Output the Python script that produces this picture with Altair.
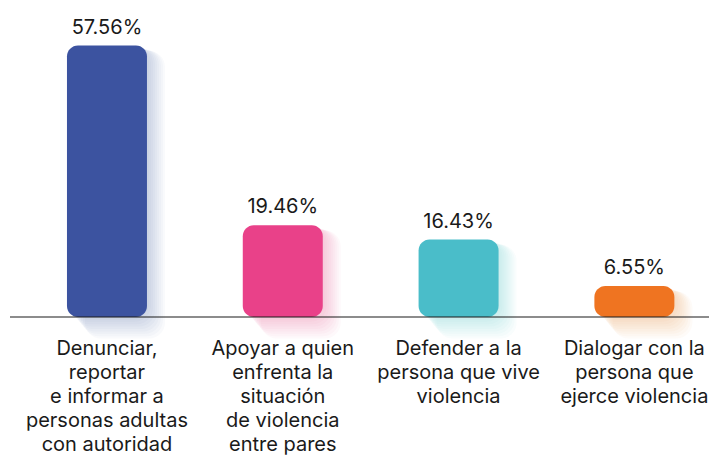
import altair as alt
import pandas as pd

categories = [
    "Denunciar,\nreportar\ne informar a\npersonas adultas\ncon autoridad",
    "Apoyar a quien\nenfrenta la\nsituación\nde violencia\nentre pares",
    "Defender a la\npersona que vive\nviolencia",
    "Dialogar con la\npersona que\nejerce violencia",
]
values = [57.56, 19.46, 16.43, 6.55]
labels = ["57.56%", "19.46%", "16.43%", "6.55%"]
colors = ["#3C53A0", "#E94189", "#4ABDC9", "#EF7421"]
keys = ["a", "b", "c", "d"]

df = pd.DataFrame({"k": keys, "cat": categories, "v": values, "lab": labels, "col": colors})

FONT = "Inter"
W = 699

x = alt.X("k:N", axis=None,
          scale=alt.Scale(paddingInner=0.545, paddingOuter=0.2605, align=0.622))
y = alt.Y("v:Q", axis=None, scale=alt.Scale(domain=[0, 60]))
color = alt.Color("col:N", scale=None, legend=None)

base = alt.Chart(df)

shadows = []
for off in [2, 4, 6, 8, 10, 12, 14, 16, 18]:
    shadows.append(
        base.mark_bar(cornerRadius=16, opacity=0.03, xOffset=off, yOffset=off * 0.3,
                      y2Offset=off * 1.2)
        .encode(x=x, y=y, y2=alt.datum(0), color=color)
    )

bars = base.mark_bar(cornerRadius=11).encode(x=x, y=y, y2=alt.datum(0), color=color)

baseline = alt.Chart(pd.DataFrame({"z": [0]})).mark_rule(color="#1a1a1a", strokeWidth=1.2).encode(
    y=alt.Y("z:Q", scale=alt.Scale(domain=[0, 60]), axis=None),
    x=alt.value(0), x2=alt.value(W),
)

vals = base.mark_text(font=FONT, fontSize=20, color="#1a1a1a", baseline="bottom", dy=-8).encode(
    x=x, y=y, text="lab:N"
)

cats = base.mark_text(font=FONT, fontSize=20, color="#1a1a1a", baseline="top", dy=22,
                      lineBreak="\n", lineHeight=24, align="center").encode(
    x=x, y=alt.datum(0), text="cat:N"
)

chart = alt.layer(*shadows, bars, baseline, vals, cats).properties(
    width=W, height=283,
    autosize=alt.AutoSizeParams(type="none"),
    padding={"left": 2, "top": 26, "right": 0, "bottom": 145},
).configure(background="white").configure_view(stroke=None)

chart.save("out.html", embed_options={"renderer": "svg", "actions": False})
